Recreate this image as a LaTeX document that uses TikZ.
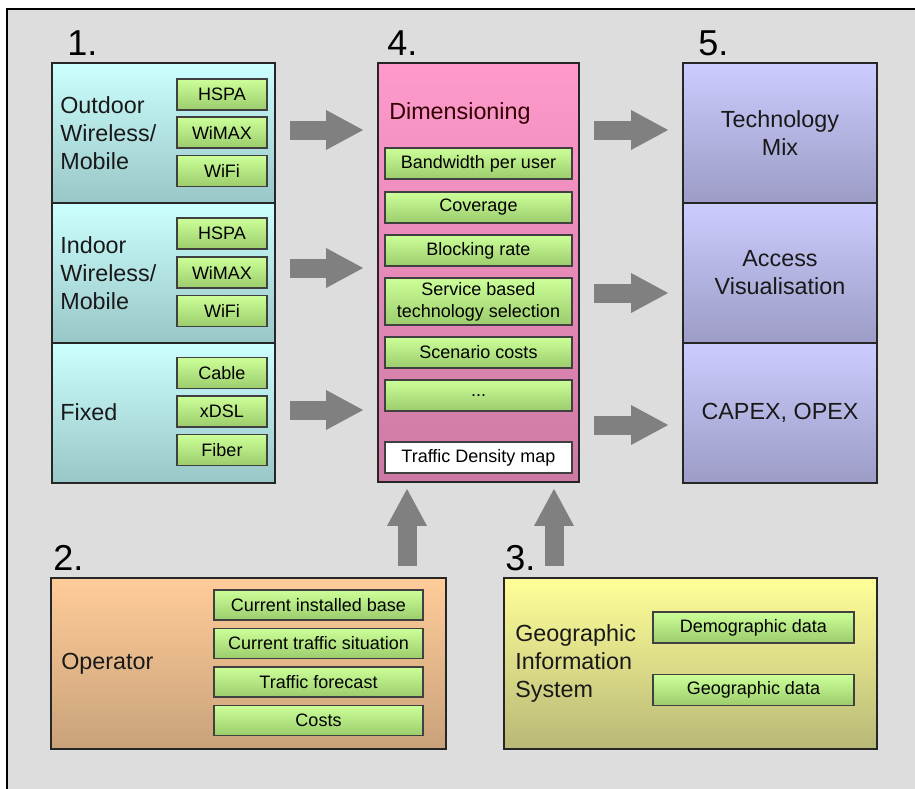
\documentclass[tikz,border=0pt]{standalone}
\usepackage{fontspec}
\setmainfont{Liberation Sans}
\usetikzlibrary{arrows.meta}

\newdimen\pxu \pxu=0.75pt

\definecolor{bggray}{HTML}{DDDDDD}
\definecolor{cyanT}{HTML}{CCFFFF}
\definecolor{cyanB}{HTML}{99C6C6}
\definecolor{pinkT}{HTML}{FF99CC}
\definecolor{pinkB}{HTML}{CC7AA3}
\definecolor{violT}{HTML}{CCCCFF}
\definecolor{violB}{HTML}{9C9CC6}
\definecolor{oranT}{HTML}{FFCC99}
\definecolor{oranB}{HTML}{C9A27A}
\definecolor{yellT}{HTML}{FFFF99}
\definecolor{yellB}{HTML}{B8B877}
\definecolor{grnT}{HTML}{CCFF99}
\definecolor{grnB}{HTML}{9CCC6C}
\definecolor{arrgray}{HTML}{808080}

\tikzset{
  bigtext/.style={font=\fontsize{17.5}{21}\selectfont, inner sep=0pt, text=black!90},
  numtext/.style={font=\fontsize{27}{30}\selectfont, inner sep=0pt},
  area/.style={draw=black!85, line width=1.4pt, inner sep=0pt},
  tech/.style={draw=black!75, line width=0.9pt, top color=grnT, bottom color=grnB,
    minimum height=31\pxu, inner sep=0pt, font=\fontsize{13.5}{16.5}\selectfont},
  bigarrow/.style={draw=arrgray, line width=14.25pt,
    -{Triangle[length=27.75pt, width=30pt, line width=0pt]},
    shorten <=14\pxu, shorten >=14\pxu}
}

\begin{document}
\begin{tikzpicture}[x=0.75pt, y=-0.75pt]
  \useasboundingbox (0,0) rectangle (915,789);
  \fill[bggray] (7,9) rectangle (925,799);
  \draw[line width=1.5pt] (925,9) -- (7,9) -- (7,799);

  % 1. access technologies
  \node(n1)[numtext, anchor=base west] at (67,55) {1.};
  \node(outdoor)[area, top color=cyanT, bottom color=cyanB, minimum width=223\pxu, minimum height=140\pxu] at (163.5,133) {};
  \node(indoor)[area, top color=cyanT, bottom color=cyanB, minimum width=223\pxu, minimum height=140\pxu] at (163.5,273) {};
  \node(fixed)[area, top color=cyanT, bottom color=cyanB, minimum width=223\pxu, minimum height=140\pxu] at (163.5,413) {};
  \node(outdoorlbl)[bigtext, anchor=west, align=left] at ([xshift=9\pxu]outdoor.west) {Outdoor\\Wireless/\\Mobile};
  \node(indoorlbl)[bigtext, anchor=west, align=left] at ([xshift=9\pxu]indoor.west) {Indoor\\Wireless/\\Mobile};
  \node(fixedlbl)[bigtext, anchor=west] at ([xshift=9\pxu, yshift=1\pxu]fixed.west) {Fixed};
  \node(hspaO)[tech, minimum width=90\pxu] at (222,94.5) {HSPA};
  \node(wimaxO)[tech, minimum width=90\pxu] at (222,132.5) {WiMAX};
  \node(wifiO)[tech, minimum width=90\pxu] at (222,171) {WiFi};
  \node(hspaI)[tech, minimum width=90\pxu] at (222,233.5) {HSPA};
  \node(wimaxI)[tech, minimum width=90\pxu] at (222,272.5) {WiMAX};
  \node(wifiI)[tech, minimum width=90\pxu] at (222,311) {WiFi};
  \node(cable)[tech, minimum width=90\pxu] at (222,373) {Cable};
  \node(xdsl)[tech, minimum width=90\pxu] at (222,411.5) {xDSL};
  \node(fiber)[tech, minimum width=90\pxu] at (222,450) {Fiber};

  % 4. dimensioning
  \node(n4)[numtext, anchor=base west] at (387,55) {4.};
  \node(dim)[area, top color=pinkT, bottom color=pinkB, minimum width=201\pxu, minimum height=419\pxu] at (478.5,272.5) {};
  \node(dimlbl)[bigtext, anchor=west, text=black!80!red] at (389,113) {Dimensioning};
  \node(bw)[tech, minimum width=187\pxu] at (478.5,163.5) {Bandwidth per user};
  \node(cov)[tech, minimum width=187\pxu] at (478.5,207.5) {Coverage};
  \node(block)[tech, minimum width=187\pxu] at (478.5,250.5) {Blocking rate};
  \node(servsel)[tech, minimum width=187\pxu, minimum height=47\pxu, align=center] at (478.5,301.5) {Service based\\technology selection};
  \node(scencost)[tech, minimum width=187\pxu] at (478.5,352.5) {Scenario costs};
  \node(more)[tech, minimum width=187\pxu] at (478.5,395.5) {...};
  \node(tdmap)[tech, top color=white, bottom color=white, minimum width=187\pxu] at (478.5,457.5) {Traffic Density map};

  % 5. results
  \node(n5)[numtext, anchor=base west] at (698,55) {5.};
  \node(techmix)[area, top color=violT, bottom color=violB, minimum width=194\pxu, minimum height=140\pxu, bigtext, align=center] at (780,133) {Technology\\Mix};
  \node(accvis)[area, top color=violT, bottom color=violB, minimum width=194\pxu, minimum height=140\pxu, bigtext, align=center] at (780,273) {Access\\Visualisation};
  \node(capex)[area, top color=violT, bottom color=violB, minimum width=194\pxu, minimum height=140\pxu, bigtext] at (780,413) {CAPEX, OPEX};

  % 2. operator
  \node(n2)[numtext, anchor=base west] at (53,570) {2.};
  \node(oper)[area, top color=oranT, bottom color=oranB, minimum width=395\pxu, minimum height=171\pxu] at (248.5,663.5) {};
  \node(operlbl)[bigtext, anchor=west] at ([xshift=11\pxu]oper.west) {Operator};
  \node(instbase)[tech, minimum width=209\pxu, minimum height=30\pxu] at (318.5,605) {Current installed base};
  \node(trafsit)[tech, minimum width=209\pxu, minimum height=30\pxu] at (318.5,643.5) {Current traffic situation};
  \node(forecast)[tech, minimum width=209\pxu, minimum height=30\pxu] at (318.5,682) {Traffic forecast};
  \node(costs)[tech, minimum width=209\pxu, minimum height=30\pxu] at (318.5,720.5) {Costs};

  % 3. GIS
  \node(n3)[numtext, anchor=base west] at (505,570) {3.};
  \node(gis)[area, top color=yellT, bottom color=yellB, minimum width=373\pxu, minimum height=171\pxu] at (690.5,663.5) {};
  \node(gislbl)[bigtext, anchor=west, align=left] at ([xshift=12\pxu]gis.west) {Geographic\\Information\\System};
  \node(demo)[tech, minimum width=201\pxu] at (753.5,627.5) {Demographic data};
  \node(geo)[tech, minimum width=201\pxu] at (753.5,690) {Geographic data};

  % arrows
  \coordinate(upL) at (407,0);
  \coordinate(upR) at (554,0);
  \draw[bigarrow] ([yshift=3\pxu]outdoor.east) -- ([yshift=3\pxu]outdoor.east -| dim.west);
  \draw[bigarrow] ([yshift=5\pxu]indoor.east) -- ([yshift=5\pxu]indoor.east -| dim.west);
  \draw[bigarrow] ([yshift=3\pxu]fixed.east) -- ([yshift=3\pxu]fixed.east -| dim.west);
  \draw[bigarrow] ([yshift=3\pxu]techmix.west -| dim.east) -- ([yshift=3\pxu]techmix.west);
  \draw[bigarrow] ([yshift=-20\pxu]accvis.west -| dim.east) -- ([yshift=-20\pxu]accvis.west);
  \draw[bigarrow] ([yshift=-12\pxu]capex.west -| dim.east) -- ([yshift=-12\pxu]capex.west);
  \draw[bigarrow, shorten <=11\pxu, shorten >=6\pxu] (oper.north -| upL) -- (dim.south -| upL);
  \draw[bigarrow, shorten <=11\pxu, shorten >=6\pxu] (gis.north -| upR) -- (dim.south -| upR);
\end{tikzpicture}
\end{document}
